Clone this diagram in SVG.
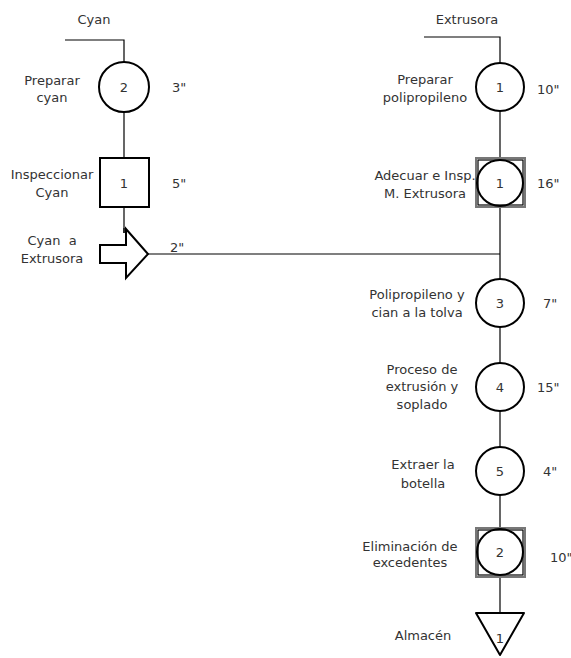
<svg xmlns="http://www.w3.org/2000/svg" width="571" height="658" viewBox="0 0 571 658">
<style>
text{font-family:"DejaVu Sans","Liberation Sans",sans-serif;font-size:13px;fill:#333;text-anchor:middle}
.t{text-anchor:start}
.ln{stroke:#000;stroke-width:1.2;fill:none}
.sh{stroke:#000;stroke-width:2;fill:#fff}
.ob{stroke:#777;stroke-width:2;fill:#fff}
.ib{stroke:#000;stroke-width:1.2;fill:none}
</style>
<rect width="571" height="658" fill="#fff"/>
<g id="connectors">
<polyline class="ln" points="65,40 124,40 124,62"/>
<line class="ln" x1="124" y1="112" x2="124" y2="158"/>
<line class="ln" x1="124" y1="207" x2="124" y2="233"/>
<line class="ln" x1="148" y1="254" x2="500" y2="254"/>
<polyline class="ln" points="424,37 500,37 500,63"/>
<line class="ln" x1="500" y1="111" x2="500" y2="158"/>
<line class="ln" x1="500" y1="207" x2="500" y2="279"/>
<line class="ln" x1="500" y1="327" x2="500" y2="363"/>
<line class="ln" x1="500" y1="411" x2="500" y2="447"/>
<line class="ln" x1="500" y1="495" x2="500" y2="528"/>
<line class="ln" x1="500" y1="577" x2="500" y2="613"/>
</g>
<text x="94" y="24">Cyan</text>
<text x="467" y="24">Extrusora</text>
<g id="preparar-cyan">
<circle class="sh" cx="124" cy="87" r="25"/>
<text x="124" y="92">2</text>
<text x="52" y="85">Preparar</text>
<text x="52" y="102">cyan</text>
<text class="t" x="172" y="92">3"</text>
</g>
<g id="inspeccionar-cyan">
<rect class="sh" x="100" y="158" width="49" height="49"/>
<text x="124" y="188">1</text>
<text x="52" y="179">Inspeccionar</text>
<text x="52" y="197">Cyan</text>
<text class="t" x="172" y="188">5"</text>
</g>
<g id="cyan-a-extrusora">
<polygon class="sh" points="100,245 126,245 126,229 148,254 126,278 126,263 100,263" stroke-linejoin="miter"/>
<line class="ln" x1="124" y1="228" x2="124" y2="233"/>
<text x="52" y="245" xml:space="preserve">Cyan  a</text>
<text x="52" y="263">Extrusora</text>
<text class="t" x="170" y="252">2"</text>
</g>
<g id="preparar-polipropileno">
<circle class="sh" cx="500" cy="87" r="24"/>
<text x="500" y="92">1</text>
<text x="425" y="84">Preparar</text>
<text x="425" y="102">polipropileno</text>
<text class="t" x="537" y="94">10"</text>
</g>
<g id="adecuar-insp">
<rect class="ob" x="476" y="158" width="49" height="49"/>
<rect class="ib" x="478" y="160" width="45" height="45"/>
<circle class="sh" cx="500" cy="183" r="23" style="fill:none"/>
<text x="500" y="188">1</text>
<text x="425" y="180">Adecuar e Insp.</text>
<text x="425" y="198">M. Extrusora</text>
<text class="t" x="537" y="188">16"</text>
</g>
<g id="polipropileno-tolva">
<circle class="sh" cx="500" cy="303" r="24"/>
<text x="500" y="308">3</text>
<text x="417" y="299">Polipropileno y</text>
<text x="417" y="317">cian a la tolva</text>
<text class="t" x="543" y="308">7"</text>
</g>
<g id="proceso-extrusion">
<circle class="sh" cx="500" cy="387" r="24"/>
<text x="500" y="392">4</text>
<text x="422" y="374">Proceso de</text>
<text x="422" y="391">extrusión y</text>
<text x="422" y="409">soplado</text>
<text class="t" x="537" y="392">15"</text>
</g>
<g id="extraer-botella">
<circle class="sh" cx="500" cy="471" r="24"/>
<text x="500" y="476">5</text>
<text x="423" y="469">Extraer la</text>
<text x="423" y="488">botella</text>
<text class="t" x="543" y="476">4"</text>
</g>
<g id="eliminacion-excedentes">
<rect class="ob" x="476" y="528" width="49" height="49"/>
<rect class="ib" x="478" y="530" width="45" height="45"/>
<circle class="sh" cx="500" cy="552" r="23" style="fill:none"/>
<text x="500" y="557">2</text>
<text x="410" y="551">Eliminación de</text>
<text x="410" y="567">excedentes</text>
<text class="t" x="550" y="562">10"</text>
</g>
<g id="almacen">
<polygon class="sh" points="476,613 524,613 500,655" stroke-linejoin="round"/>
<text x="500" y="643">1</text>
<text x="423" y="640">Almacén</text>
</g>
</svg>
